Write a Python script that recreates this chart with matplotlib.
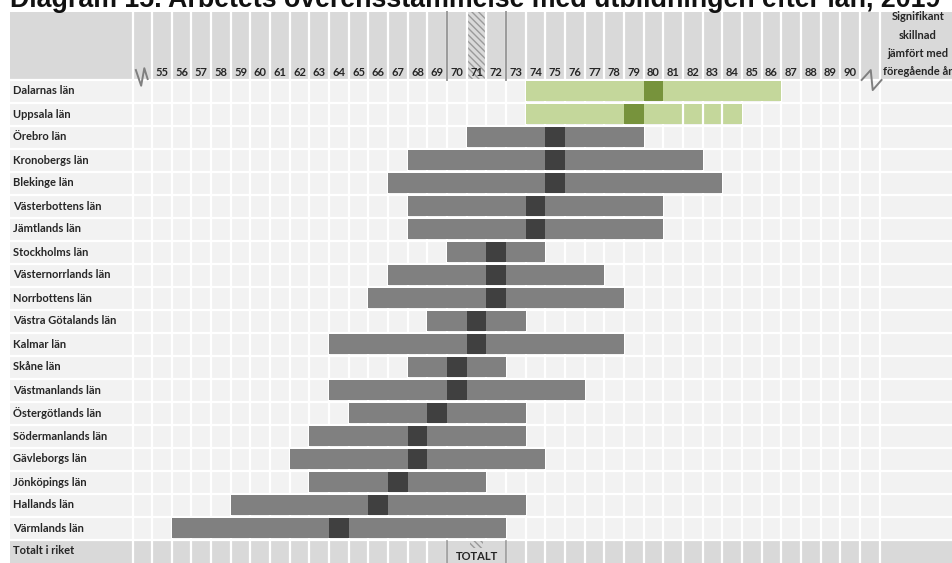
import matplotlib
matplotlib.use("Agg")
import matplotlib.pyplot as plt
from matplotlib.patches import Rectangle

# data (column values 55..90)
counties = [
    "Dalarnas län", "Uppsala län", "Örebro län", "Kronobergs län", "Blekinge län",
    "Västerbottens län", "Jämtlands län", "Stockholms län", "Västernorrlands län",
    "Norrbottens län", "Västra Götalands län", "Kalmar län", "Skåne län",
    "Västmanlands län", "Östergötlands län", "Södermanlands län", "Gävleborgs län",
    "Jönköpings län", "Hallands län", "Värmlands län",
]
low = [74, 74, 71, 68, 67, 68, 68, 70, 67, 66, 69, 64, 68, 64, 65, 63, 62, 63, 59, 56]
point = [80, 79, 75, 75, 75, 74, 74, 72, 72, 72, 71, 71, 70, 70, 69, 68, 68, 67, 66, 64]
high = [86, 84, 79, 82, 83, 80, 80, 74, 77, 78, 73, 78, 72, 76, 73, 73, 74, 71, 73, 72]
significant = [True, True] + [False] * 18
uppsala_split_cells = [82, 83, 84]

total_label = "Totalt i riket"
total_value = 71
total_range = (70, 72)
columns = list(range(55, 91))
signif_lines = ["Signifikant", "skillnad", "jämfört med", "föregående år"]
title = "Diagram 15. Arbetets överensstämmelse med utbildningen efter län, 2019"

# colours
HEAD = "#d9d9d9"
CELL = "#f2f2f2"
BAR = "#808080"
BAR_DARK = "#404040"
GREEN = "#c4d79b"
GREEN_DARK = "#77933c"
TXT = "#262626"
LABEL_FONT = ["Lato", "DejaVu Sans"]
FS = 8

W, H = 953, 563
COL = 19.66   # px per column
ROW = 23.0    # px per row

fig = plt.figure(figsize=(W / 100, H / 100), dpi=100)
ax = fig.add_axes([0, 0, 1, 1])
ax.set_xlim(55 - 162 / COL, 55 + (W - 162) / COL)
ax.set_ylim((H - 91) / ROW, -91 / ROW)
ax.axis("off")

n = len(counties)
x_left = 55 - 152 / COL          # left edge of the label column
x_right = 55 + (W - 162) / COL
head_top = (12 - 91) / ROW

# backgrounds
ax.add_patch(Rectangle((x_left, head_top), x_right - x_left, -0.5 - head_top, fc=HEAD, lw=0))
ax.add_patch(Rectangle((x_left, -0.5), x_right - x_left, n, fc=CELL, lw=0))
ax.add_patch(Rectangle((x_left, n - 0.5), x_right - x_left, 1, fc=HEAD, lw=0))

# hatched total column in header
ax.add_patch(Rectangle((total_value - 0.5, head_top), 1, -0.5 - head_top, fc=HEAD,
                       ec="#9a9a9a", hatch="\\\\\\\\\\", lw=0))

# white grid
for xv in [columns[0] - 1.5] + [c - 0.5 for c in columns] + [columns[-1] + 0.5, columns[-1] + 1.5]:
    ax.plot([xv, xv], [head_top, n + 0.5], color="white", lw=1.6, zorder=2)
for r in range(n + 1):
    ax.plot([x_left, x_right], [r - 0.5, r - 0.5], color="white", lw=1.6, zorder=2)

# header lines around the total
for xv in (total_range[0] - 0.5, total_range[1] + 0.5):
    ax.plot([xv, xv], [head_top, -0.5], color="#9a9a9a", lw=1.4, zorder=3)

# bars
for i in range(n):
    c1, c2 = (GREEN, GREEN_DARK) if significant[i] else (BAR, BAR_DARK)
    ax.barh(i, high[i] - low[i] + 1, left=low[i] - 0.5, height=0.9, color=c1, zorder=4)
    ax.barh(i, 1, left=point[i] - 0.5, height=0.9, color=c2, zorder=5)
for c in uppsala_split_cells:
    ax.plot([c - 0.5, c - 0.5], [0.55, 1.45], color="white", lw=1.6, zorder=6)

# total row box
ax.add_patch(Rectangle((total_range[0] - 0.5, n - 0.45), total_range[1] - total_range[0] + 1, 0.95,
                       fc=HEAD, lw=0, zorder=3))
for xv in (total_range[0] - 0.5, total_range[1] + 0.5):
    ax.plot([xv, xv], [n - 0.45, n + 0.5], color="#9a9a9a", lw=1.2, zorder=4)
ax.add_patch(Rectangle((total_value - 0.35, n - 0.42), 0.7, 0.3, fc=HEAD, ec="#9a9a9a",
                       hatch="\\\\\\\\\\", lw=0, zorder=4))
ax.text(total_value, n + 0.22, "TOTALT", ha="center", va="center", fontsize=FS,
        fontweight="bold", family=LABEL_FONT, color=TXT, zorder=5)

# break marks
zig_left = ([-0.33, -0.06, 0.1, 0.27], [-0.91, -0.23, -0.99, -0.52])
zig_right = ([-0.41, 0.05, 0.15, 0.6], [-0.48, -0.91, -0.04, -0.48])
ax.plot([columns[0] - 1 + d for d in zig_left[0]], zig_left[1], color="#7f7f7f", lw=1.4, zorder=6)
ax.plot([columns[-1] + 1 + d for d in zig_right[0]], zig_right[1], color="#7f7f7f", lw=1.4, zorder=6)

# column labels
for c in columns:
    ax.text(c, (72 - 91) / ROW, str(c), ha="center", va="center", fontsize=FS,
            fontweight="bold", family=LABEL_FONT, color=TXT, zorder=7)

# row labels
label_x = 55 + (13 - 162) / COL
for i, name in enumerate(counties + [total_label]):
    ax.text(label_x, i, name, ha="left", va="center", fontsize=FS, fontweight="bold",
            family=LABEL_FONT, color=TXT, zorder=7)

# significance header
sig_x = 55 + (918 - 162) / COL
for k, line in enumerate(signif_lines):
    ax.text(sig_x, (17 + 18.3 * k - 91) / ROW, line, ha="center", va="center", fontsize=FS,
            fontweight="bold", family=LABEL_FONT, color=TXT, zorder=7)

fig.text(10 / W, 1 - 7 / H, title, ha="left", va="baseline", fontsize=19.3,
         fontweight="bold", family=["Liberation Sans", "DejaVu Sans"], color="#111111")

fig.savefig("out.png", dpi=100)
